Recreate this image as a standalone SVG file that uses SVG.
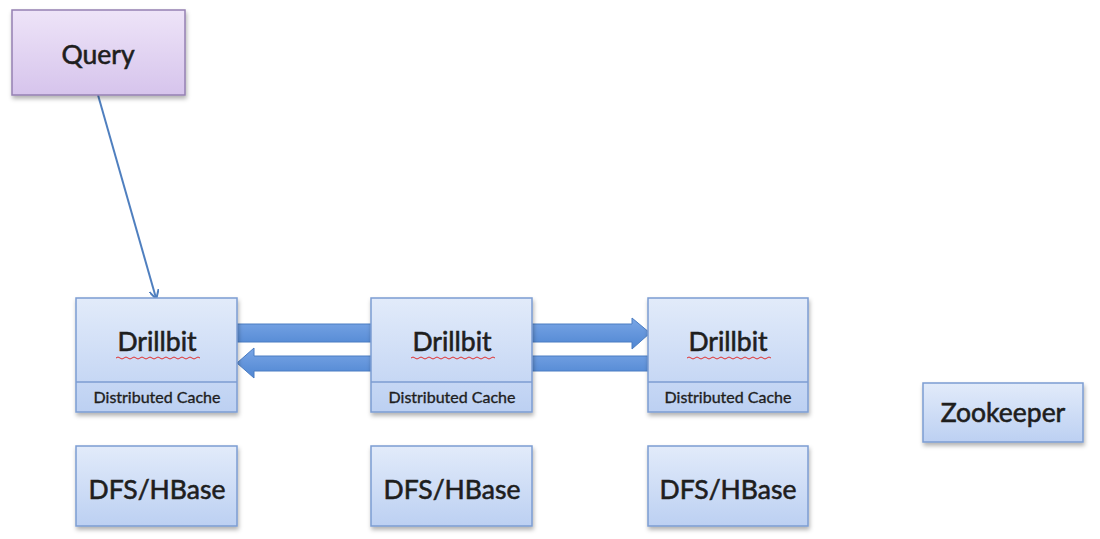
<svg xmlns="http://www.w3.org/2000/svg" width="1100" height="539" viewBox="0 0 1100 539">
<defs>
<linearGradient id="gBlue" x1="0" y1="0" x2="0" y2="1">
<stop offset="0" stop-color="#e2ebfa"/>
<stop offset="1" stop-color="#bcd0f2"/>
</linearGradient>
<linearGradient id="gPurple" x1="0" y1="0" x2="0" y2="1">
<stop offset="0" stop-color="#eee4f8"/>
<stop offset="1" stop-color="#d6c4ec"/>
</linearGradient>
<linearGradient id="gArrow" x1="0" y1="0" x2="0" y2="1">
<stop offset="0" stop-color="#7aa6e6"/>
<stop offset="1" stop-color="#4f86d2"/>
</linearGradient>
<filter id="sh" x="-10%" y="-10%" width="130%" height="140%">
<feDropShadow dx="1" dy="3" stdDeviation="2" flood-color="#000" flood-opacity="0.3"/>
</filter>
<marker id="ah" markerWidth="10" markerHeight="10" refX="8" refY="5" orient="auto" markerUnits="userSpaceOnUse">
<path d="M0,0 L9,5 L0,10" fill="none" stroke="#4f7fbf" stroke-width="2"/>
</marker>
</defs>
<style>
.box{fill:url(#gBlue);stroke:#7c9dd2;stroke-width:1.5;filter:url(#sh)}
.qbox{fill:url(#gPurple);stroke:#9580b3;stroke-width:1.5;filter:url(#sh)}
.t{font-family:Lato,"Open Sans","Liberation Sans",sans-serif;font-size:26.5px;fill:#1e1e1e;stroke:#1e1e1e;stroke-width:0.6;text-anchor:middle}
.s{font-family:Lato,"Open Sans","Liberation Sans",sans-serif;font-size:16px;fill:#1e1e1e;stroke:#1e1e1e;stroke-width:0.35;text-anchor:middle}
.div{stroke:#7c9dd2;stroke-width:1.5}
.sq{fill:none;stroke:#e03030;stroke-width:1}
.barr{fill:url(#gArrow);stroke:#4a7cc2;stroke-width:1}
</style>
<rect width="1100" height="539" fill="#ffffff"/>
<g id="connectors">
<line x1="98" y1="95" x2="156" y2="298" stroke="#4f7fbf" stroke-width="2" marker-end="url(#ah)"/>
<path class="barr" d="M237,324 L632,324 L632,318 L650,333 L632,349 L632,342 L237,342 Z"/>
<path class="barr" d="M648,356 L254,356 L254,348 L237,363 L254,378 L254,371 L648,371 Z"/>
</g>
<g id="query">
<rect class="qbox" x="12" y="10" width="173" height="85"/>
<text class="t" x="98" y="64">Query</text>
</g>
<g id="drillbit1">
<rect class="box" x="76" y="298" width="161" height="114"/>
<line class="div" x1="76" y1="382" x2="237" y2="382"/>
<text class="t" x="157" y="351">Drillbit</text>
<path class="sq" d="M116,358 q2,-2 4,0 t4,0 t4,0 t4,0 t4,0 t4,0 t4,0 t4,0 t4,0 t4,0 t4,0 t4,0 t4,0 t4,0 t4,0 t4,0 t4,0 t4,0 t4,0 t4,0 t4,0"/>
<text class="s" x="157" y="403">Distributed Cache</text>
</g>
<g id="drillbit2">
<rect class="box" x="371" y="298" width="161" height="114"/>
<line class="div" x1="371" y1="382" x2="532" y2="382"/>
<text class="t" x="452" y="351">Drillbit</text>
<path class="sq" d="M411,358 q2,-2 4,0 t4,0 t4,0 t4,0 t4,0 t4,0 t4,0 t4,0 t4,0 t4,0 t4,0 t4,0 t4,0 t4,0 t4,0 t4,0 t4,0 t4,0 t4,0 t4,0 t4,0"/>
<text class="s" x="452" y="403">Distributed Cache</text>
</g>
<g id="drillbit3">
<rect class="box" x="648" y="298" width="160" height="114"/>
<line class="div" x1="648" y1="382" x2="808" y2="382"/>
<text class="t" x="728" y="351">Drillbit</text>
<path class="sq" d="M687,358 q2,-2 4,0 t4,0 t4,0 t4,0 t4,0 t4,0 t4,0 t4,0 t4,0 t4,0 t4,0 t4,0 t4,0 t4,0 t4,0 t4,0 t4,0 t4,0 t4,0 t4,0 t4,0"/>
<text class="s" x="728" y="403">Distributed Cache</text>
</g>
<g id="zookeeper">
<rect class="box" x="923" y="383" width="160" height="59"/>
<text class="t" x="1003" y="422">Zookeeper</text>
</g>
<g id="dfs1">
<rect class="box" x="76" y="446" width="161" height="80"/>
<text class="t" x="157" y="499">DFS/HBase</text>
</g>
<g id="dfs2">
<rect class="box" x="371" y="446" width="161" height="80"/>
<text class="t" x="452" y="499">DFS/HBase</text>
</g>
<g id="dfs3">
<rect class="box" x="648" y="446" width="160" height="80"/>
<text class="t" x="728" y="499">DFS/HBase</text>
</g>
</svg>
